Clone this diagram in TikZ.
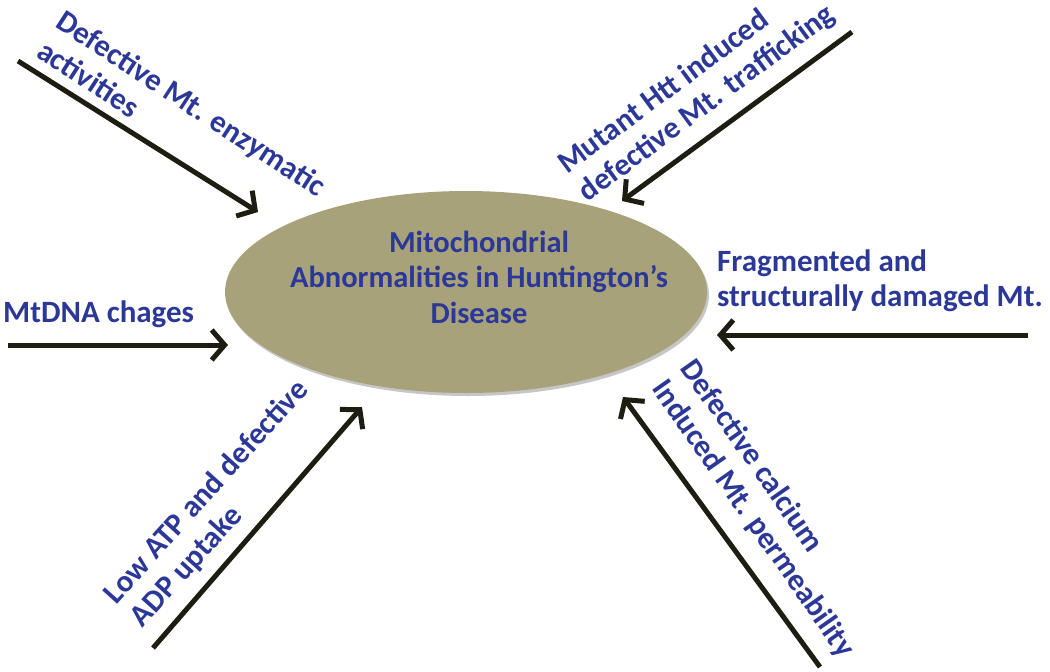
\documentclass[tikz,border=0pt]{standalone}
\usepackage{fontspec}
\setmainfont{Carlito}
\usetikzlibrary{arrows.meta,shapes.geometric,shadows}
\definecolor{causeblue}{RGB}{44,56,152}
\definecolor{mitokhaki}{RGB}{168,162,122}
\definecolor{arrowdark}{RGB}{30,29,18}
\tikzset{
  cause/.style={text=causeblue, font=\fontsize{31}{35}\selectfont\bfseries, align=left, inner sep=0pt},
  push/.style={draw=arrowdark, line width=5pt, -{Straight Barb[length=13pt,width=30pt]}},
}
\begin{document}
\begin{tikzpicture}[x=1pt, y=-1pt]
    \useasboundingbox (0,0) rectangle (1050,672);
    \node (mito) [ellipse, fill=mitokhaki, minimum width=482pt, minimum height=202pt, inner sep=0pt,
        drop shadow={shadow xshift=2pt, shadow yshift=-3pt, opacity=0.45}] at (466,292) {};
    \node (title) [cause, align=center, font=\fontsize{30.5}{35.5}\selectfont\bfseries] at (479,277) {Mitochondrial\\Abnormalities in Huntington’s\\Disease};
    \node (enzyme) [cause, rotate=-33] at (182,118) {Defective Mt. enzymatic\\activities};
    \node (traffic) [cause, rotate=36.5] at (697,90) {Mutant Htt induced\\defective Mt. trafficking};
    \node (mtdna) [cause, anchor=base west] at (3,322) {MtDNA chages};
    \node (frag) [cause, anchor=west] at (717,281) {Fragmented and\\structurally damaged Mt.};
    \node (atp) [cause, rotate=48] at (220,504) {Low ATP and defective\\ADP uptake};
    \node (calcium) [cause, rotate=-55] at (767,509) {Defective calcium\\Induced Mt. permeability};
    % tails and heads of the arrows
    \coordinate (t1) at (18,61);    \coordinate (h1) at (258,212);
    \coordinate (t2) at (852,32);   \coordinate (h2) at (622,201);
    \coordinate (t3) at (8,345);    \coordinate (h3) at (228,345);
    \coordinate (t4) at (1028,335); \coordinate (h4) at (717,335);
    \coordinate (t5) at (153,648);  \coordinate (h5) at (362,407);
    \coordinate (t6) at (820,667);  \coordinate (h6) at (623,397);
    \foreach \from/\to in {t1/h1, t2/h2, t3/h3, t4/h4, t5/h5, t6/h6}
        \draw[push] (\from) -- (\to);
\end{tikzpicture}
\end{document}
